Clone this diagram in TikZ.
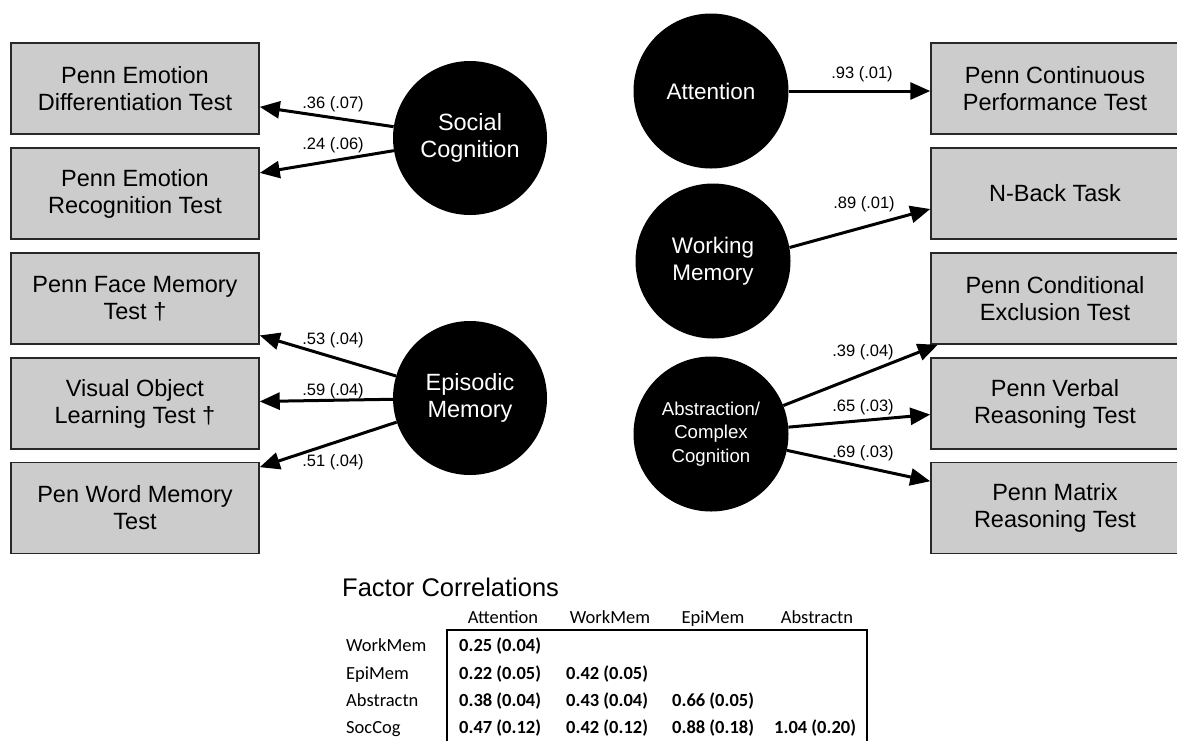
\documentclass[tikz,border=0pt]{standalone}
\usepackage{fontspec}
\setmainfont{Liberation Sans}
\newfontfamily\calib{Carlito}
\usetikzlibrary{arrows.meta}
\definecolor{boxgray}{RGB}{204,204,204}
\definecolor{boxline}{RGB}{40,40,40}
\begin{document}
\begin{tikzpicture}[x=1pt,y=-1pt,
  testbox/.style={draw=boxline, line width=1.5pt, fill=boxgray, minimum width=248pt, minimum height=91pt, inner sep=0pt, align=center, font=\fontsize{23.5}{27}\selectfont},
  factor/.style={circle, fill=black, text=white, inner sep=0pt, align=center},
  bigf/.style={factor, minimum size=154pt, font=\fontsize{23.5}{27}\selectfont},
  rightf/.style={factor, minimum size=155pt, font=\fontsize{22.5}{27}\selectfont},
  load/.style={line width=3pt, -{Triangle[length=20pt,width=17pt]}},
  lbl/.style={font=\fontsize{16.5}{19}\selectfont, inner sep=0pt},
  tabh/.style={anchor=base, inner sep=0pt, font=\calib\fontsize{18.5}{22}\selectfont},
  rowl/.style={anchor=base west, inner sep=0pt, font=\calib\fontsize{18.5}{22}\selectfont},
  val/.style={anchor=base west, inner sep=0pt, font=\calib\bfseries\fontsize{18.5}{22}\selectfont}
]
\clip (0,0) rectangle (1177,740);
\fill[white] (0,0) rectangle (1177,740);

% left test boxes
\node[testbox] (b1) at (135,88.5) {Penn Emotion\\Differentiation Test};
\node[testbox] (b2) at (135,193.5) {Penn Emotion\\Recognition Test};
\node[testbox] (b3) at (135,298.5) {Penn Face Memory\\Test †};
\node[testbox] (b4) at (135,403.5) {Visual Object\\Learning Test †};
\node[testbox] (b5) at (135,508) {Pen Word Memory\\Test};

% right test boxes
\node[testbox] (r1) at (1055,88.5) {Penn Continuous\\Performance Test};
\node[testbox] (r2) at (1055,193.5) {N-Back Task};
\node[testbox] (r3) at (1055,298.5) {Penn Conditional\\Exclusion Test};
\node[testbox] (r4) at (1055,403.5) {Penn Verbal\\Reasoning Test};
\node[testbox] (r5) at (1055,508) {Penn Matrix\\Reasoning Test};

% factors
\node[bigf] (soc) at (470,138) {Social\\Cognition};
\node[bigf] (epi) at (470,398) {Episodic\\Memory};
\node[rightf] (att) at (711,91) {Attention};
\node[rightf] (wm) at (713,261) {Working\\Memory};
\node[rightf, font=\fontsize{18.6}{23.5}\selectfont] (abs) at (711,434) {Abstraction/\\Complex\\Cognition};

% loadings
\draw[load] (soc) -- (b1);
\draw[load] (soc) -- (b2);
\draw[load] (epi) -- (b3);
\draw[load] (epi) -- (b4);
\draw[load] (epi) -- (b5);
\draw[load] (att) -- (att -| r1.west);
\draw[load] (wm.10) -- ([yshift=-15.5pt]r2.west);
\draw[load] (abs) -- (r3);
\draw[load] (abs) -- (r4);
\draw[load] (abs) -- (r5);

% loading labels
\node[lbl] (l1) at (333,104) {.36 (.07)};
\node[lbl] (l2) at (333,145) {.24 (.06)};
\node[lbl] (l3) at (333,340) {.53 (.04)};
\node[lbl] (l4) at (333,391) {.59 (.04)};
\node[lbl] (l5) at (333,462) {.51 (.04)};
\node[lbl] (l6) at (862,74) {.93 (.01)};
\node[lbl] (l7) at (864,204) {.89 (.01)};
\node[lbl] (l8) at (863,352) {.39 (.04)};
\node[lbl] (l9) at (863,407) {.65 (.03)};
\node[lbl] (l10) at (863,453) {.69 (.03)};

% factor correlations table
\node[anchor=base west, inner sep=0pt, font=\fontsize{25.5}{29}\selectfont] (title) at (342,596) {Factor Correlations};
\node[tabh] (hA) at (503,623) {Attention};
\node[tabh] (hW) at (610,623) {WorkMem};
\node[tabh] (hE) at (713,623) {EpiMem};
\node[tabh] (hB) at (817,623) {Abstractn};

\node[rowl] (rW) at (346,651) {WorkMem};
\node[rowl] (rE) at (346,679) {EpiMem};
\node[rowl] (rB) at (346,706) {Abstractn};
\node[rowl] (rS) at (346,733) {SocCog};

\node[val] (v11) at (459,651) {0.25 (0.04)};
\node[val] (v21) at (459,679) {0.22 (0.05)};
\node[val] (v22) at (566,679) {0.42 (0.05)};
\node[val] (v31) at (459,706) {0.38 (0.04)};
\node[val] (v32) at (566,706) {0.43 (0.04)};
\node[val] (v33) at (672,706) {0.66 (0.05)};
\node[val] (v41) at (459,733) {0.47 (0.12)};
\node[val] (v42) at (566,733) {0.42 (0.12)};
\node[val] (v43) at (672,733) {0.88 (0.18)};
\node[val] (v44) at (774,733) {1.04 (0.20)};

\draw[line width=2.5pt] (447,745) -- (447,630) -- (867,630) -- (867,745);
\end{tikzpicture}
\end{document}
